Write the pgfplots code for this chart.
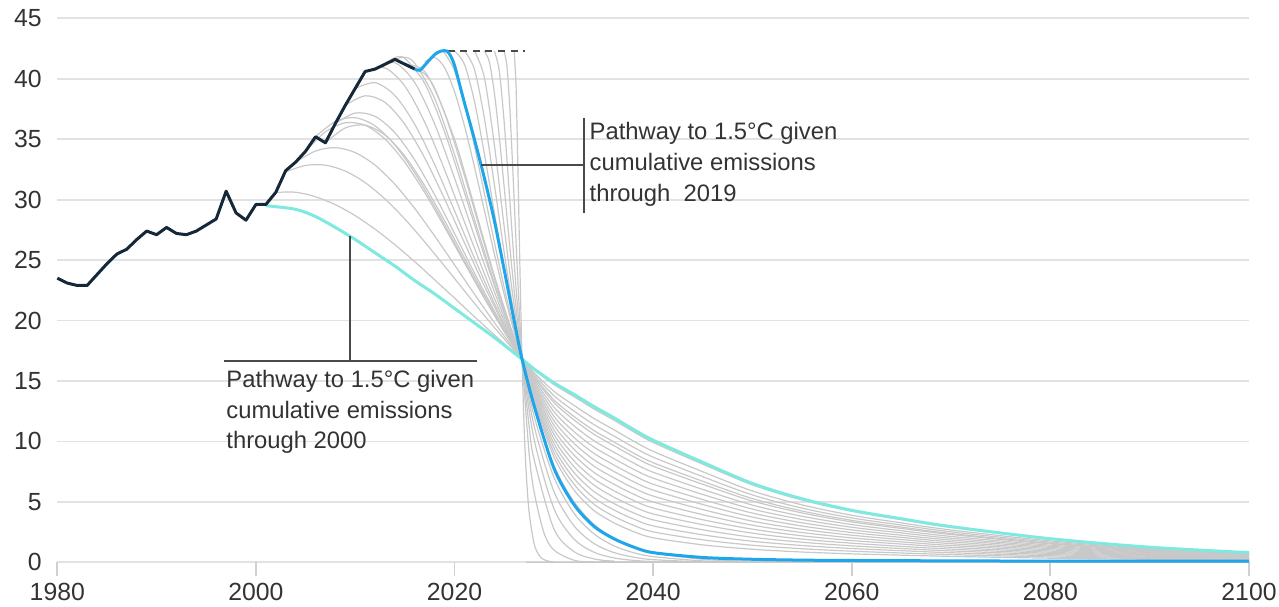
\documentclass[border=0pt]{standalone}
\usepackage{fontspec}
\setmainfont{Liberation Sans}
\usepackage{pgfplots}
\pgfplotsset{compat=1.18}
\definecolor{gridgray}{HTML}{E2E2E2}
\definecolor{tickgray}{HTML}{D0D0D0}
\definecolor{labelgray}{HTML}{333333}
\definecolor{navy}{HTML}{14283A}
\definecolor{skyblue}{HTML}{1FA6EA}
\definecolor{aqua}{HTML}{7DE9DF}
\definecolor{curvegray}{HTML}{C8C8C8}
\definecolor{annot}{HTML}{4A4A4A}
\pgfplotsset{
  graypath/.style={draw=curvegray, line width=0.6bp, smooth},
}
\begin{document}
\begin{tikzpicture}
\path[use as bounding box] (0,0) rectangle (639.5bp,303.5bp);
\begin{axis}[
  at={(28.65bp,22.35bp)}, anchor=south west,
  scale only axis, width=595.85bp, height=272bp,
  xmin=1980, xmax=2100, ymin=0, ymax=45,
  clip=false,
  axis line style={draw=none},
  xtick={1980,2000,2020,2040,2060,2080,2100},
  xticklabels={1980,2000,2020,2040,2060,2080,2100},
  ytick={0,5,10,15,20,25,30,35,40,45},
  yticklabels={0,5,10,15,20,25,30,35,40,45},
  xtick pos=left, ytick pos=left,
  tick align=outside,
  major tick length=7bp,
  xtick style={draw=tickgray, line width=0.9bp},
  ytick style={draw=none},
  ymajorgrids,
  grid style={draw=gridgray, line width=0.9bp},
  tick label style={font=\fontsize{12.4bp}{14bp}\selectfont, text=labelgray},
  yticklabel style={xshift=2.7bp},
]
% ---- grey pathways (start years 2002-2018)
\addplot[graypath] coordinates {(2002,30.6)(2004,30.61)(2006,30.24)(2008,29.58)(2010,28.67)(2012,27.55)(2014,26.27)(2016,24.86)(2018,23.37)(2020,21.85)(2022,20.32)(2024,18.82)(2026,17.36)(2026.8,16.8)(2028,15.94)(2030,14.71)(2032,13.72)(2034,12.70)(2036,11.78)(2038,10.81)(2040,9.91)(2045,8.11)(2050,6.40)(2055,5.15)(2060,4.22)(2065,3.53)(2070,2.89)(2080,1.91)(2090,1.23)(2100,0.79)};
\addplot[graypath] coordinates {(2003,32.3)(2005,32.83)(2007,32.85)(2009,32.36)(2011,31.41)(2013,30.05)(2015,28.39)(2017,26.50)(2019,24.50)(2021,22.45)(2023,20.42)(2025,18.47)(2026.8,16.8)(2028,15.70)(2030,14.15)(2032,13.00)(2034,11.92)(2036,10.99)(2038,10.04)(2040,9.18)(2045,7.49)(2050,5.90)(2055,4.75)(2060,3.89)(2065,3.26)(2070,2.67)(2080,1.77)(2090,1.14)(2100,0.73)};
\addplot[graypath] coordinates {(2004,33.1)(2006,34.02)(2008,34.30)(2010,33.89)(2012,32.85)(2014,31.26)(2016,29.26)(2018,26.99)(2020,24.60)(2022,22.19)(2024,19.84)(2026,17.63)(2026.8,16.8)(2028,15.55)(2030,13.79)(2032,12.53)(2034,11.41)(2036,10.47)(2038,9.53)(2040,8.70)(2045,7.08)(2050,5.57)(2055,4.48)(2060,3.67)(2065,3.08)(2070,2.52)(2080,1.67)(2090,1.08)(2100,0.69)};
\addplot[graypath] coordinates {(2005,34.0)(2007,35.61)(2009,36.36)(2011,36.15)(2013,35.01)(2015,33.08)(2017,30.58)(2019,27.73)(2021,24.76)(2023,21.84)(2025,19.08)(2026.8,16.8)(2028,15.40)(2030,13.44)(2032,12.08)(2034,10.92)(2036,9.98)(2038,9.05)(2040,8.24)(2045,6.70)(2050,5.27)(2055,4.24)(2060,3.47)(2065,2.91)(2070,2.38)(2080,1.58)(2090,1.02)(2100,0.66)};
\addplot[graypath] coordinates {(2006,35.2)(2008,36.47)(2010,36.78)(2012,36.10)(2014,34.51)(2016,32.20)(2018,29.43)(2020,26.42)(2022,23.39)(2024,20.48)(2026,17.78)(2026.8,16.8)(2028,15.31)(2030,13.22)(2032,11.80)(2034,10.61)(2036,9.67)(2038,8.75)(2040,7.95)(2045,6.45)(2050,5.07)(2055,4.08)(2060,3.34)(2065,2.80)(2070,2.30)(2080,1.52)(2090,0.98)(2100,0.64)};
\addplot[graypath] coordinates {(2007,34.7)(2009,35.93)(2011,36.16)(2013,35.34)(2015,33.60)(2017,31.14)(2019,28.25)(2021,25.17)(2023,22.11)(2025,19.22)(2026.8,16.8)(2028,15.15)(2030,12.84)(2032,11.31)(2034,10.08)(2036,9.13)(2038,8.23)(2040,7.45)(2045,6.03)(2050,4.73)(2055,3.81)(2060,3.12)(2065,2.61)(2070,2.14)(2080,1.42)(2090,0.92)(2100,0.60)};
\addplot[graypath] coordinates {(2008,36.3)(2010,37.16)(2012,36.89)(2014,35.53)(2016,33.27)(2018,30.39)(2020,27.20)(2022,23.94)(2024,20.80)(2026,17.89)(2026.8,16.8)(2028,14.99)(2030,12.47)(2032,10.83)(2034,9.55)(2036,8.60)(2038,7.71)(2040,6.96)(2045,5.61)(2050,4.40)(2055,3.54)(2060,2.90)(2065,2.43)(2070,1.99)(2080,1.32)(2090,0.86)(2100,0.56)};
\addplot[graypath] coordinates {(2009,37.8)(2011,38.59)(2013,38.04)(2015,36.22)(2017,33.44)(2019,30.05)(2021,26.43)(2023,22.86)(2025,19.53)(2026,17.99)(2026.8,16.8)(2028,14.83)(2030,12.09)(2032,10.35)(2034,9.03)(2036,8.07)(2038,7.20)(2040,6.46)(2045,5.19)(2050,4.07)(2055,3.27)(2060,2.68)(2065,2.24)(2070,1.84)(2080,1.23)(2090,0.80)(2100,0.53)};
\addplot[graypath] coordinates {(2010,39.2)(2012,39.67)(2014,38.61)(2016,36.22)(2018,32.90)(2020,29.08)(2022,25.17)(2024,21.44)(2025,19.70)(2026,18.06)(2026.8,16.8)(2028,14.67)(2030,11.72)(2032,9.86)(2034,8.50)(2036,7.54)(2038,6.68)(2040,5.97)(2045,4.78)(2050,3.74)(2055,3.00)(2060,2.46)(2065,2.06)(2070,1.69)(2080,1.13)(2090,0.74)(2100,0.49)};
\addplot[graypath] coordinates {(2011,40.6)(2013,40.89)(2015,39.39)(2017,36.40)(2019,32.47)(2021,28.15)(2023,23.88)(2024,21.87)(2025,19.96)(2026,18.16)(2026.8,16.8)(2028,14.51)(2030,11.35)(2032,9.38)(2034,7.98)(2036,7.01)(2038,6.16)(2040,5.48)(2045,4.36)(2050,3.40)(2055,2.73)(2060,2.24)(2065,1.88)(2070,1.54)(2080,1.03)(2090,0.68)(2100,0.45)};
\addplot[graypath] coordinates {(2012,40.8)(2014,41.32)(2016,39.67)(2018,36.25)(2020,31.78)(2022,26.99)(2023,24.65)(2024,22.40)(2025,20.27)(2026,18.29)(2026.8,16.8)(2028,14.35)(2030,10.97)(2032,8.90)(2034,7.46)(2036,6.48)(2038,5.65)(2040,4.99)(2045,3.94)(2050,3.07)(2055,2.46)(2060,2.02)(2065,1.69)(2070,1.39)(2080,0.93)(2090,0.62)(2100,0.42)};
\addplot[graypath] coordinates {(2013,41.2)(2014,41.76)(2015,41.67)(2017,39.61)(2019,35.60)(2021,30.57)(2022,27.96)(2023,25.38)(2024,22.92)(2025,20.59)(2026,18.43)(2026.8,16.8)(2028,14.19)(2030,10.60)(2032,8.42)(2034,6.93)(2036,5.94)(2038,5.13)(2040,4.49)(2045,3.52)(2050,2.74)(2055,2.19)(2060,1.80)(2065,1.51)(2070,1.24)(2080,0.83)(2090,0.56)(2100,0.38)};
\addplot[graypath] coordinates {(2014,41.6)(2015,41.78)(2016,41.27)(2018,38.37)(2020,33.72)(2021,31.07)(2022,28.37)(2023,25.70)(2024,23.13)(2025,20.72)(2026,18.48)(2026.8,16.8)(2028,14.03)(2030,10.23)(2032,7.94)(2034,6.41)(2036,5.41)(2038,4.62)(2040,4.00)(2045,3.11)(2050,2.41)(2055,1.92)(2060,1.58)(2065,1.32)(2070,1.09)(2080,0.74)(2090,0.50)(2100,0.34)};
\addplot[graypath] coordinates {(2015,41.2)(2017,40.59)(2019,37.16)(2021,31.99)(2022,29.15)(2023,26.31)(2024,23.56)(2025,20.97)(2026,18.57)(2026.8,16.8)(2028,13.87)(2030,9.85)(2032,7.46)(2034,5.88)(2036,4.88)(2038,4.10)(2040,3.51)(2045,2.69)(2050,2.07)(2055,1.66)(2060,1.36)(2065,1.14)(2070,0.94)(2080,0.64)(2090,0.43)(2100,0.30)};
\addplot[graypath] coordinates {(2016,40.8)(2017,40.39)(2018,39.21)(2020,34.99)(2021,32.30)(2022,29.43)(2023,26.54)(2024,23.73)(2025,21.07)(2026,18.61)(2026.8,16.8)(2028,13.71)(2030,9.48)(2032,6.97)(2034,5.36)(2036,4.35)(2038,3.59)(2040,3.01)(2045,2.27)(2050,1.74)(2055,1.39)(2060,1.14)(2065,0.96)(2070,0.79)(2080,0.54)(2090,0.37)(2100,0.27)};
\addplot[graypath] coordinates {(2017,41.4)(2018,41.77)(2019,40.91)(2020,38.93)(2021,36.10)(2022,32.73)(2023,29.13)(2024,25.55)(2025,22.16)(2026,19.06)(2026.8,16.8)(2028,13.56)(2030,9.10)(2032,6.49)(2034,4.83)(2036,3.82)(2038,3.07)(2040,2.52)(2045,1.86)(2050,1.41)(2055,1.12)(2060,0.92)(2065,0.77)(2070,0.64)(2080,0.44)(2090,0.31)(2100,0.23)};
\addplot[graypath] coordinates {(2018,42.1)(2018.5,42.3)(2019,42.12)(2020,40.66)(2021,37.97)(2022,34.45)(2023,30.52)(2024,26.52)(2025,22.73)(2026,19.28)(2026.8,16.8)(2028,13.40)(2030,8.73)(2032,6.01)(2034,4.31)(2036,3.29)(2038,2.55)(2040,2.03)(2045,1.44)(2050,1.08)(2055,0.85)(2060,0.70)(2065,0.59)(2070,0.49)(2080,0.34)(2090,0.25)(2100,0.19)};
% ---- grey pathways starting from the dashed plateau (2020-2026)
\addplot[graypath] coordinates {(2020,42.3)(2021,41.19)(2022,38.14)(2023,33.81)(2024,28.96)(2025,24.19)(2026,19.85)(2026.8,16.8)(2028,12.72)(2030,8.01)(2032,5.04)(2034,3.17)(2036,2.00)(2038,1.26)(2040,0.79)(2045,0.25)(2050,0.08)(2060,0.01)(2100,0)};
\addplot[graypath] coordinates {(2021,42.3)(2022,40.79)(2023,36.75)(2024,31.32)(2025,25.64)(2026,20.42)(2026.8,16.8)(2028,12.13)(2030,7.05)(2032,4.09)(2034,2.38)(2036,1.38)(2038,0.80)(2040,0.47)(2045,0.12)(2050,0.03)(2060,0)(2100,0)};
\addplot[graypath] coordinates {(2022,42.3)(2023,40.12)(2024,34.59)(2025,27.74)(2025.5,24.38)(2026,21.24)(2026.4,18.92)(2026.8,16.8)(2028,11.33)(2030,5.88)(2032,3.05)(2034,1.58)(2036,0.82)(2038,0.43)(2040,0.22)(2045,0.04)(2050,0)(2100,0)};
\addplot[graypath] coordinates {(2023,42.3)(2023.5,41.41)(2024,38.91)(2024.5,35.27)(2025,31.02)(2025.5,26.67)(2026,22.53)(2026.4,19.51)(2026.8,16.8)(2028,10.22)(2030,4.46)(2032,1.95)(2034,0.85)(2036,0.37)(2038,0.16)(2040,0.07)(2045,0)(2100,0)};
\addplot[graypath] coordinates {(2024,42.3)(2024.5,40.68)(2025,36.39)(2025.5,30.71)(2026,24.85)(2026.4,20.56)(2026.8,16.8)(2027.5,11.33)(2028,8.55)(2030,2.78)(2032,0.90)(2034,0.29)(2036,0.10)(2040,0)(2100,0)};
\addplot[graypath] coordinates {(2025,42.3)(2025.3,40.88)(2025.6,37.07)(2025.9,31.89)(2026.2,26.38)(2026.5,21.24)(2026.8,16.8)(2027.5,9.11)(2028,5.88)(2029,2.45)(2030,1.02)(2032,0.18)(2034,0.03)(2040,0)(2100,0)};
\addplot[graypath] coordinates {(2026,42.3)(2026.2,39.22)(2026.4,31.89)(2026.5,27.74)(2026.6,23.73)(2026.7,20.06)(2026.8,16.8)(2027,11.33)(2027.2,7.65)(2027.5,4.24)(2028,1.58)(2028.5,0.59)(2029,0.22)(2030,0.03)(2032,0)(2100,0)};
% ---- dashed plateau
\addplot[draw=annot, line width=0.9bp, dash pattern=on 3.5bp off 2.8bp] coordinates {(2019.3,42.3)(2027.1,42.3)};
% ---- pathway given emissions through 2000
\addplot[draw=aqua, line width=1.5bp, smooth] coordinates {(2001,29.5)(2004,29.2)(2006,28.6)(2008,27.7)(2010,26.7)(2012,25.6)(2014,24.5)(2016,23.3)(2018,22.2)(2020,21.0)(2022,19.8)(2024,18.6)(2026.8,16.8)(2028,16.0)(2030,14.85)(2032,13.9)(2034,12.9)(2036,11.98)(2038,11.0)(2040,10.1)(2045,8.27)(2050,6.52)(2055,5.25)(2060,4.3)(2065,3.6)(2070,2.95)(2080,1.95)(2090,1.25)(2100,0.8)};
% ---- historical emissions
\addplot[draw=navy, line width=1.5bp, line join=round] coordinates {(1980,23.5)(1981,23.1)(1982,22.9)(1983,22.9)(1984,23.8)(1985,24.7)(1986,25.5)(1987,25.9)(1988,26.7)(1989,27.4)(1990,27.1)(1991,27.7)(1992,27.2)(1993,27.1)(1994,27.4)(1995,27.9)(1996,28.4)(1997,30.7)(1998,28.9)(1999,28.3)(2000,29.6)(2001,29.6)(2002,30.6)(2003,32.4)(2004,33.1)(2005,34.0)(2006,35.2)(2007,34.7)(2008,36.3)(2009,37.8)(2010,39.2)(2011,40.6)(2012,40.8)(2013,41.2)(2014,41.6)(2015,41.2)(2016,40.8)};
% ---- pathway given emissions through 2019
\addplot[draw=skyblue, line width=1.5bp, smooth] coordinates {(2016,40.8)(2016.5,40.7)(2017.2,41.3)(2018,42.0)(2018.6,42.28)(2019.2,42.3)(2019.6,41.9)(2020,41.1)(2020.55,39.4)(2021,38.0)(2022,35.0)(2023,31.8)(2024,28.3)(2025,24.2)(2026,20.0)(2026.8,16.8)(2028,13.0)(2030,7.8)(2032,4.81)(2034,3.0)(2036,1.97)(2038,1.27)(2040,0.8)(2045,0.4)(2050,0.25)(2055,0.18)(2060,0.15)(2070,0.12)(2080,0.1)(2100,0.1)};
% ---- annotations
\draw[annot, line width=1bp] (axis cs:2022.67,32.86) -- (axis cs:2033.04,32.86);
\draw[annot, line width=1bp] (axis cs:2033.04,36.72) -- (axis cs:2033.04,28.87);
\node[anchor=base west, inner sep=0pt, font=\fontsize{11.9bp}{14bp}\selectfont, text=labelgray] at (axis cs:2033.57,34.99) {Pathway to 1.5°C given};
\node[anchor=base west, inner sep=0pt, font=\fontsize{11.9bp}{14bp}\selectfont, text=labelgray] at (axis cs:2033.57,32.41) {cumulative emissions};
\node[anchor=base west, inner sep=0pt, font=\fontsize{11.9bp}{14bp}\selectfont, text=labelgray] at (axis cs:2033.57,29.83) {through\ \ 2019};
\draw[annot, line width=1bp] (axis cs:2009.47,26.96) -- (axis cs:2009.47,16.65);
\draw[annot, line width=1bp] (axis cs:1996.78,16.65) -- (axis cs:2022.23,16.65);
\node[anchor=base west, inner sep=0pt, font=\fontsize{11.9bp}{14bp}\selectfont, text=labelgray] at (axis cs:1996.99,14.47) {Pathway to 1.5°C given};
\node[anchor=base west, inner sep=0pt, font=\fontsize{11.9bp}{14bp}\selectfont, text=labelgray] at (axis cs:1996.99,11.91) {cumulative emissions};
\node[anchor=base west, inner sep=0pt, font=\fontsize{11.9bp}{14bp}\selectfont, text=labelgray] at (axis cs:1996.99,9.43) {through 2000};
\end{axis}
\end{tikzpicture}
\end{document}
